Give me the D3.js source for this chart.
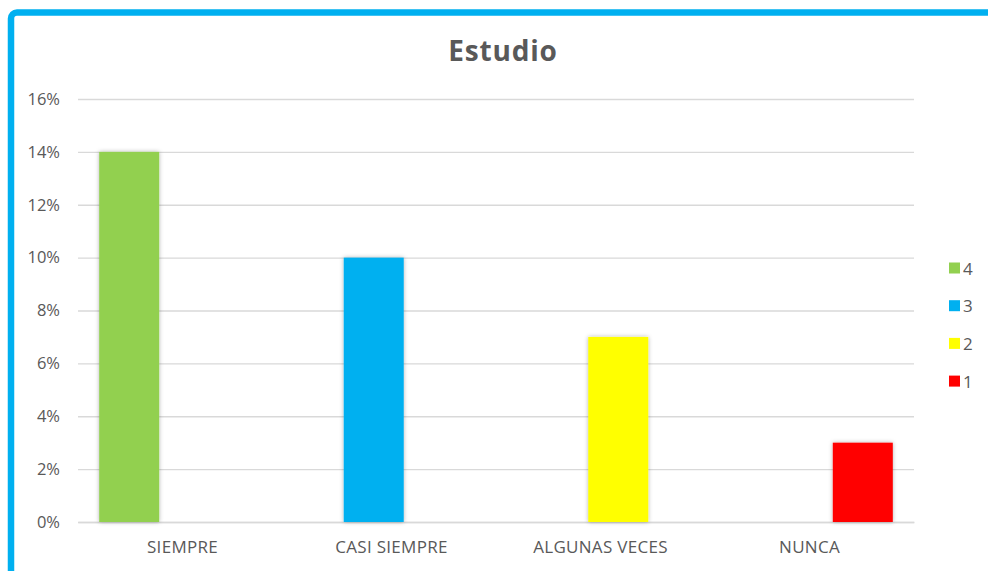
<!DOCTYPE html>
<html>
<head>
<meta charset="utf-8">
<script src="https://cdn.jsdelivr.net/npm/d3@7"></script>
<style>
  body { margin: 0; background: #fff; }
  text { font-family: "Open Sans", Lato, sans-serif; fill: #595959; }
</style>
</head>
<body>
<div id="chart"></div>
<script>
// chart data
var categories = ["SIEMPRE", "CASI SIEMPRE", "ALGUNAS VECES", "NUNCA"];
var seriesNames = ["4", "3", "2", "1"];
var seriesColors = ["#92D050", "#00B0F0", "#FFFF00", "#FF0000"];
var values4 = [0.14, 0, 0, 0];
var values3 = [0, 0.10, 0, 0];
var values2 = [0, 0, 0.07, 0];
var values1 = [0, 0, 0, 0.03];
var yTicks = [0, 0.02, 0.04, 0.06, 0.08, 0.10, 0.12, 0.14, 0.16];

var allValues = [values4, values3, values2, values1];

var width = 988, height = 571;

var svg = d3.select("#chart").append("svg")
    .attr("width", width)
    .attr("height", height);

// drop shadow for bars
var defs = svg.append("defs");
var filt = defs.append("filter").attr("id", "shadow")
    .attr("x", "-20%").attr("y", "-5%").attr("width", "140%").attr("height", "110%");
filt.append("feDropShadow")
    .attr("dx", 0).attr("dy", 0).attr("stdDeviation", 2)
    .attr("flood-color", "#000").attr("flood-opacity", 0.3);

// frame
svg.append("rect")
    .attr("x", 11).attr("y", 12.5)
    .attr("width", 1100).attr("height", 700)
    .attr("rx", 6)
    .attr("fill", "none")
    .attr("stroke", "#00B0F0")
    .attr("stroke-width", 6.5);

var margin = {left: 78, right: 914, top: 99, bottom: 522};

var x0 = d3.scaleBand()
    .domain(categories)
    .range([margin.left, margin.right]);

var x1 = d3.scalePoint()
    .domain(seriesNames)
    .range([x0.bandwidth() * 0.245, x0.bandwidth() * 0.755]);

var barWidth = 60;

var y = d3.scaleLinear()
    .domain([0, 0.16])
    .range([margin.bottom, margin.top]);

// title
svg.append("text")
    .attr("x", 503).attr("y", 61)
    .attr("text-anchor", "middle")
    .style("font-size", "28px")
    .style("font-weight", "bold")
    .style("letter-spacing", "0.8px")
    .text("Estudio");

// grid + y axis
var yAxis = svg.append("g")
    .attr("transform", "translate(" + margin.left + ",0)")
    .call(d3.axisLeft(y)
        .tickValues(yTicks)
        .tickFormat(d3.format(".0%"))
        .tickSize(-(margin.right - margin.left))
        .tickPadding(18));
yAxis.select(".domain").remove();
yAxis.selectAll(".tick line").attr("stroke", "#d9d9d9").attr("stroke-width", 1.3);
yAxis.selectAll(".tick text").style("font-size", "16.5px").attr("fill", "#595959");

// x axis
var xAxis = svg.append("g")
    .attr("transform", "translate(0," + margin.bottom + ")")
    .call(d3.axisBottom(x0).tickSize(0).tickPadding(19));
xAxis.select(".domain").attr("stroke", "#d9d9d9").attr("stroke-width", 1.3);
xAxis.selectAll(".tick text").style("font-size", "17px")
    .style("letter-spacing", "0.3px").attr("fill", "#595959");

// bars
var bars = svg.append("g");
seriesNames.forEach(function(s, i) {
    bars.selectAll(".bar-" + s)
        .data(allValues[i].map(function(v, j) { return {cat: categories[j], value: v}; })
            .filter(function(d) { return d.value > 0; }))
        .enter()
        .append("rect")
        .attr("x", function(d) { return x0(d.cat) + x1(s) - barWidth / 2; })
        .attr("y", function(d) { return y(d.value); })
        .attr("width", barWidth)
        .attr("height", function(d) { return y(0) - y(d.value); })
        .attr("fill", seriesColors[i])
        .attr("filter", "url(#shadow)");
});

// legend
var legend = svg.append("g");
seriesNames.forEach(function(s, i) {
    var ly = 268 + i * 37.7;
    legend.append("rect")
        .attr("x", 949).attr("y", ly - 5.5)
        .attr("width", 11).attr("height", 11)
        .attr("fill", seriesColors[i]);
    legend.append("text")
        .attr("x", 963).attr("y", ly + 6.5)
        .style("font-size", "17px")
        .text(s);
});
</script>
</body>
</html>
